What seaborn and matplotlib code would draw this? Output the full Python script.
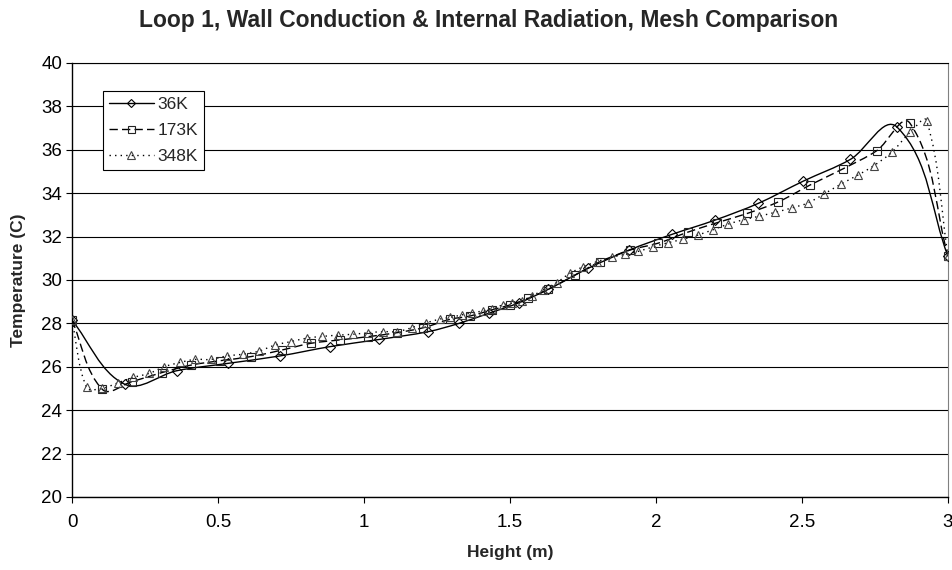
import numpy as np
import pandas as pd
import matplotlib
matplotlib.use("Agg")
import matplotlib.pyplot as plt
import seaborn as sns
from matplotlib.path import Path
from matplotlib.patches import PathPatch
from matplotlib.lines import Line2D
from matplotlib.ticker import FormatStrFormatter

# ---------------- data ----------------
series_names = ["36K", "173K", "348K"]

x_36k = [0, 0.18, 0.359, 0.535, 0.712, 0.884, 1.052, 1.22, 1.325, 1.428, 1.531,
         1.631, 1.768, 1.908, 2.054, 2.202, 2.35, 2.505, 2.666, 2.826, 3.0]
t_36k = [28.15, 25.2, 25.82, 26.16, 26.5, 26.93, 27.26, 27.62, 28.0, 28.47, 28.95,
         29.57, 30.54, 31.38, 32.1, 32.76, 33.53, 34.56, 35.56, 37.04, 31.1]

x_173k = [0, 0.104, 0.204, 0.307, 0.408, 0.507, 0.613, 0.718, 0.817, 0.918, 1.015,
          1.112, 1.203, 1.295, 1.363, 1.437, 1.50, 1.563, 1.631, 1.723, 1.808,
          1.911, 2.008, 2.108, 2.209, 2.313, 2.419, 2.528, 2.640, 2.756, 2.870, 3.0]
t_173k = [28.15, 24.96, 25.31, 25.73, 26.08, 26.28, 26.47, 26.77, 27.08, 27.24, 27.39,
          27.57, 27.8, 28.19, 28.34, 28.62, 28.85, 29.16, 29.57, 30.23, 30.84,
          31.38, 31.7, 32.2, 32.64, 33.07, 33.6, 34.38, 35.12, 35.96, 37.22, 31.1]

x_348k = [0, 0.05, 0.102, 0.159, 0.21, 0.265, 0.315, 0.37, 0.421, 0.475, 0.53,
          0.585, 0.64, 0.695, 0.75, 0.804, 0.857, 0.912, 0.963, 1.015, 1.066,
          1.114, 1.163, 1.212, 1.26, 1.295, 1.335, 1.371, 1.406, 1.44, 1.475,
          1.508, 1.54, 1.574, 1.614, 1.66, 1.705, 1.751, 1.797, 1.848, 1.894,
          1.94, 1.99, 2.042, 2.093, 2.143, 2.196, 2.248, 2.301, 2.354, 2.408,
          2.465, 2.52, 2.575, 2.632, 2.692, 2.746, 2.807, 2.870, 2.927, 3.0]
t_348k = [28.15, 25.05, 25.0, 25.27, 25.51, 25.7, 26.0, 26.2, 26.34, 26.34, 26.5,
          26.58, 26.72, 27.0, 27.16, 27.32, 27.4, 27.46, 27.5, 27.57, 27.62,
          27.62, 27.8, 28.02, 28.2, 28.28, 28.39, 28.49, 28.57, 28.66, 28.85,
          28.93, 29.05, 29.26, 29.54, 29.88, 30.31, 30.61, 30.84, 31.05, 31.18,
          31.32, 31.53, 31.72, 31.88, 32.07, 32.32, 32.58, 32.78, 32.94, 33.12,
          33.32, 33.55, 33.96, 34.41, 34.84, 35.27, 35.88, 36.8, 37.34, 31.1]

title = "Loop 1, Wall Conduction & Internal Radiation, Mesh Comparison"
x_label = "Height (m)"
y_label = "Temperature (C)"
x_ticks = [0, 0.5, 1, 1.5, 2, 2.5, 3]
y_ticks = [20, 22, 24, 26, 28, 30, 32, 34, 36, 38, 40]

# ---------------- styling ----------------
sns.set_theme(style="white")
plt.rcParams["font.family"] = ["Liberation Sans", "DejaVu Sans"]

styles = {
    "36K": dict(marker="D", ms=4.6, dash=None, mec="black"),
    "173K": dict(marker="s", ms=5.6, dash=(6, 3), mec="#222222"),
    "348K": dict(marker="^", ms=6.4, dash=(1, 3), mec="#444444"),
}

frames = []
for name, xs, ts in [("36K", x_36k, t_36k), ("173K", x_173k, t_173k), ("348K", x_348k, t_348k)]:
    frames.append(pd.DataFrame({"Height": xs, "Temp": ts, "Mesh": name}))
df = pd.concat(frames, ignore_index=True)

XMIN, XMAX, YMIN, YMAX = 0, 3, 20, 40
AX_W_PX, AX_H_PX = 876, 434


def smooth_path(x, y):
    """Excel-like smoothed line: cubic Bezier segments through the points,
    control points computed in screen space (scaled by segment length)."""
    sx = AX_W_PX / (XMAX - XMIN)
    sy = AX_H_PX / (YMAX - YMIN)
    pts = np.column_stack([np.asarray(x, float) * sx, np.asarray(y, float) * sy])
    n = len(pts)

    def tangent(i):
        a = pts[i - 1] if i > 0 else pts[i]
        b = pts[i + 1] if i < n - 1 else pts[i]
        d = b - a
        nrm = np.hypot(*d)
        return d / nrm if nrm > 0 else d

    verts = [pts[0]]
    codes = [Path.MOVETO]
    for i in range(n - 1):
        p1, p2 = pts[i], pts[i + 1]
        seg = np.hypot(*(p2 - p1))
        c1 = p1 + tangent(i) * seg / 3.0
        c2 = p2 - tangent(i + 1) * seg / 3.0
        verts += [c1, c2, p2]
        codes += [Path.CURVE4] * 3
    verts = np.array(verts) / np.array([sx, sy])
    return Path(verts, codes)


fig = plt.figure(figsize=(9.53, 5.70), dpi=100)
ax = fig.add_axes([72 / 953, 1 - 497 / 570, AX_W_PX / 953, AX_H_PX / 570])

for name in series_names:
    sub = df[df["Mesh"] == name]
    st = styles[name]
    ls = "-" if st["dash"] is None else (0, st["dash"])
    patch = PathPatch(smooth_path(sub["Height"].values, sub["Temp"].values),
                      fill=False, edgecolor="black", lw=1.0, linestyle=ls,
                      transform=ax.transData, zorder=3)
    ax.add_patch(patch)
    sns.lineplot(data=sub, x="Height", y="Temp", ax=ax, linestyle="none",
                 marker=st["marker"], markersize=st["ms"], markerfacecolor="none",
                 markeredgecolor=st["mec"], markeredgewidth=0.8, zorder=4,
                 estimator=None, sort=False)

ax.set_xlim(XMIN, XMAX)
ax.set_ylim(YMIN, YMAX)
ax.set_xticks(x_ticks)
ax.set_yticks(y_ticks)
ax.xaxis.set_major_formatter(FormatStrFormatter("%g"))
ax.yaxis.grid(True, color="black", lw=0.8)
ax.xaxis.grid(False)
ax.tick_params(axis="both", which="major", direction="out", length=4, width=0.8,
               color="black", labelsize=13.5, labelcolor="black", pad=3,
               bottom=True, left=True)
ax.tick_params(axis="x", pad=8)
for side in ["left", "bottom"]:
    ax.spines[side].set_color("black")
    ax.spines[side].set_linewidth(1.0)
ax.spines["top"].set_color("black")
ax.spines["top"].set_linewidth(0.8)
ax.spines["right"].set_color("#808080")
ax.spines["right"].set_linewidth(0.8)

ax.set_xlabel(x_label, fontsize=12.5, fontweight="bold", labelpad=10)
ax.set_ylabel(y_label, fontsize=12.5, fontweight="bold", labelpad=11)
fig.text(489 / 953, 1 - 21 / 570, title, fontsize=16.5, fontweight="bold",
         ha="center", va="center")

handles = []
for name in series_names:
    st = styles[name]
    ls = "-" if st["dash"] is None else (0, st["dash"])
    handles.append(Line2D([0], [0], color="black", lw=1.0, linestyle=ls,
                          marker=st["marker"], markersize=st["ms"] * 0.9,
                          markerfacecolor="none", markeredgecolor=st["mec"],
                          markeredgewidth=0.8))
leg = ax.legend(handles, series_names, loc="upper left", bbox_to_anchor=(0.035, 0.936),
                frameon=True, fancybox=False, fontsize=12.5, handlelength=2.6,
                handletextpad=0.2, borderpad=0.35, labelspacing=0.62,
                borderaxespad=0.0)
leg.get_frame().set_edgecolor("black")
leg.get_frame().set_linewidth(0.8)
leg.get_frame().set_facecolor("white")
leg.get_frame().set_alpha(1.0)
leg.set_zorder(10)

fig.savefig("out.png", dpi=100, facecolor="white")
